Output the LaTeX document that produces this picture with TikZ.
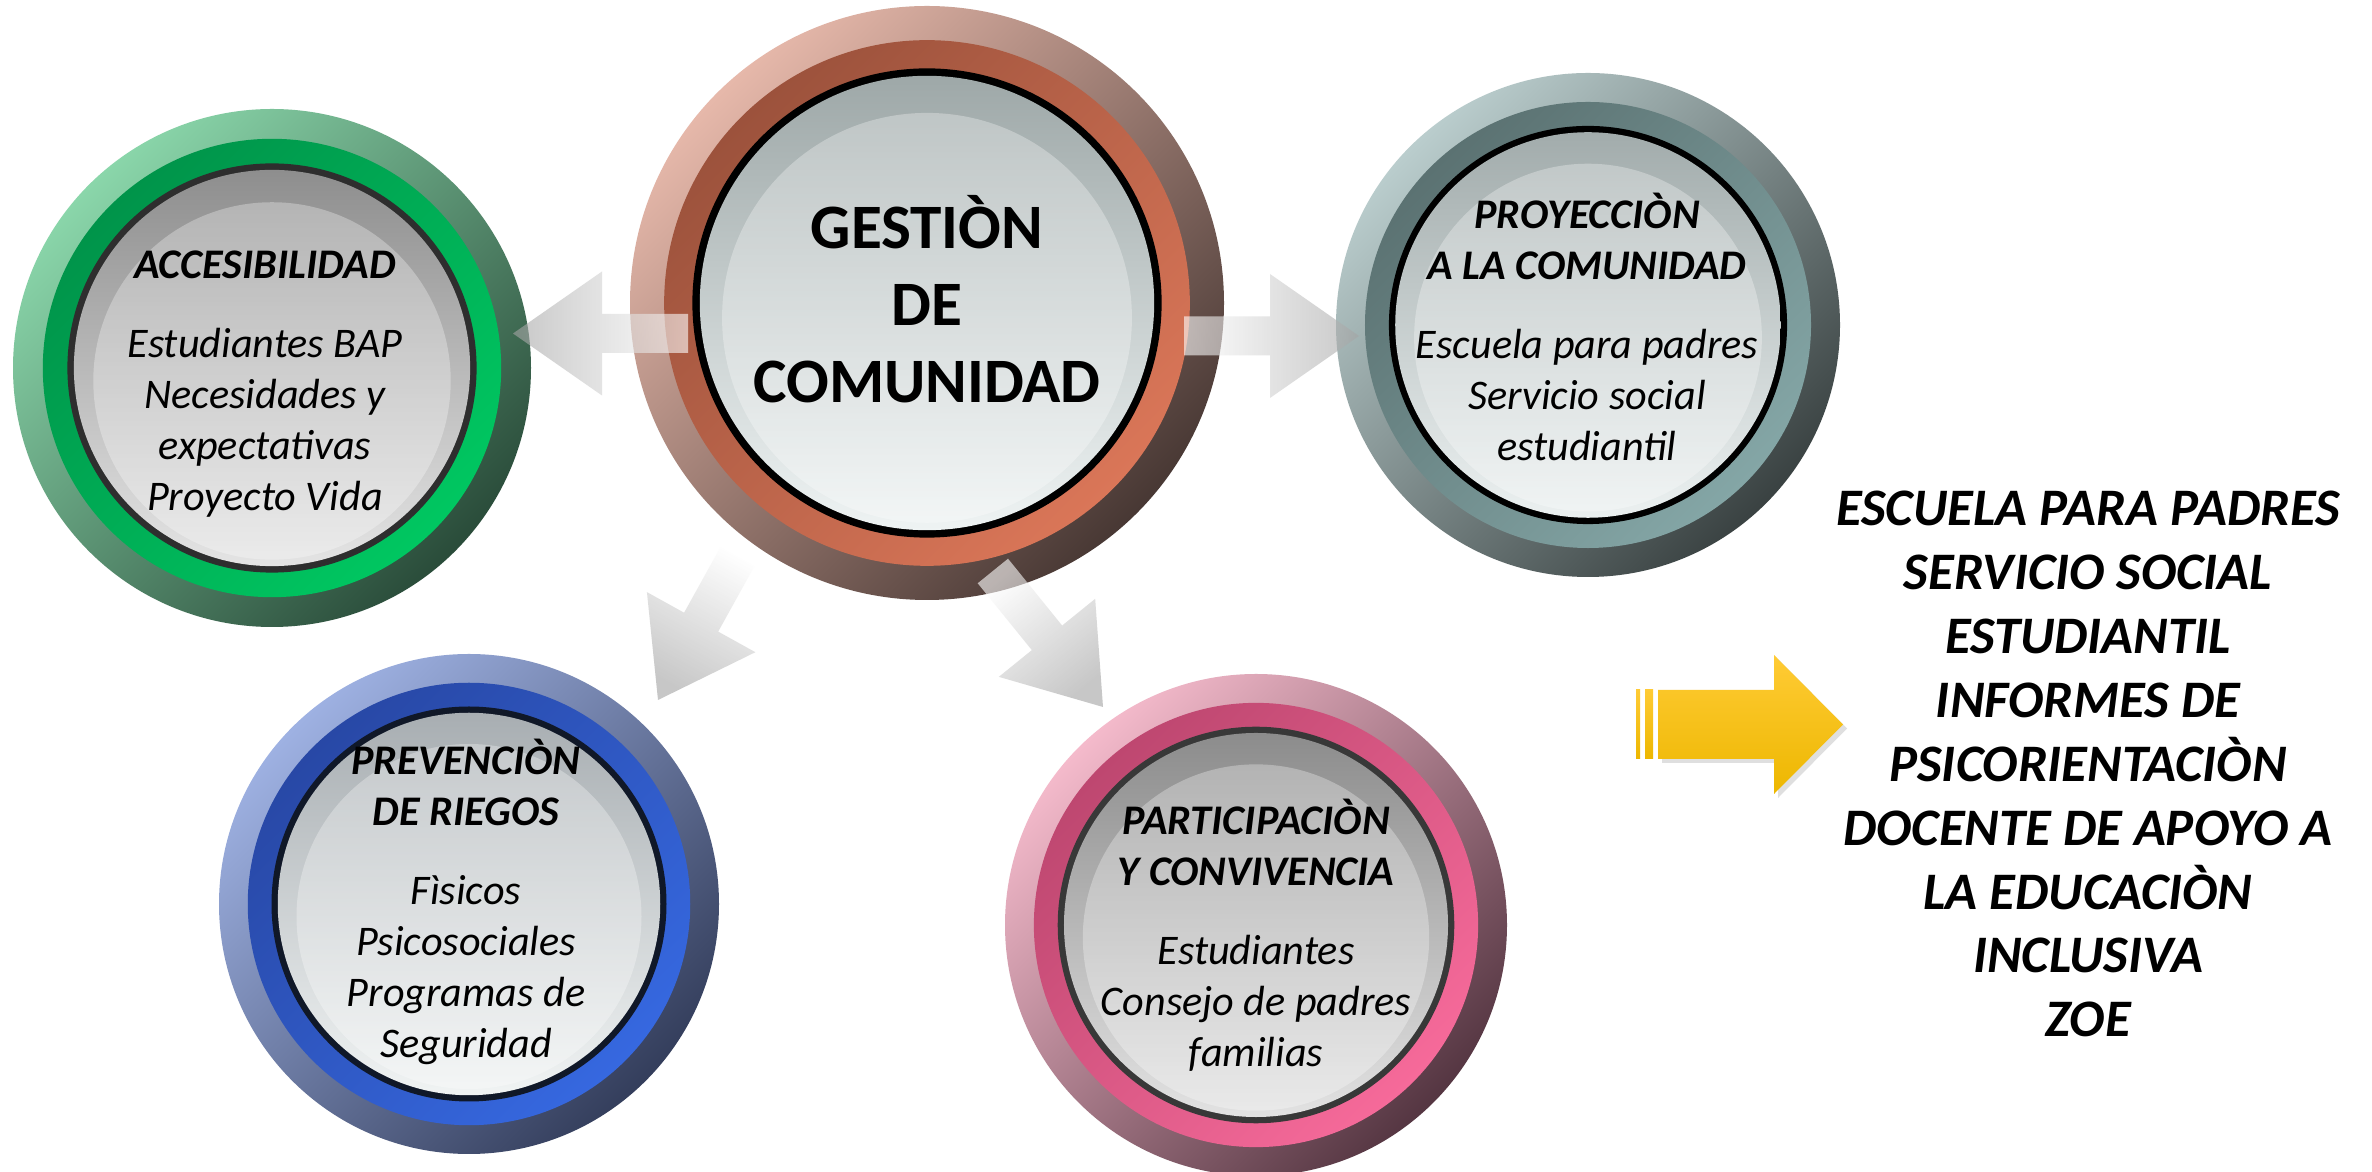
\documentclass[tikz,border=0pt]{standalone}
\usepackage{fontspec}
\setmainfont{Carlito}
\usepackage{tikz}
\usetikzlibrary{calc,shadows}

% colours: A/B outer ring, C/D band, E/F inner disk, L line
\definecolor{verdeA}{HTML}{8AD6AA}\definecolor{verdeB}{HTML}{2A4C3A}
\definecolor{verdeC}{HTML}{00944A}\definecolor{verdeD}{HTML}{00C761}
\definecolor{verdeE}{HTML}{8E8E8E}\definecolor{verdeF}{HTML}{E4E4E4}
\definecolor{verdeL}{HTML}{2E2E2E}
\definecolor{cafeA}{HTML}{E6B8AA}\definecolor{cafeB}{HTML}{483834}
\definecolor{cafeC}{HTML}{9C523C}\definecolor{cafeD}{HTML}{DA7658}
\definecolor{cafeE}{HTML}{9EA8A8}\definecolor{cafeF}{HTML}{EEF3F3}
\definecolor{cafeL}{HTML}{000000}
\definecolor{grisA}{HTML}{BACDCD}\definecolor{grisB}{HTML}{3A4242}
\definecolor{grisC}{HTML}{5B7272}\definecolor{grisD}{HTML}{84A6A6}
\definecolor{grisE}{HTML}{A2ACAC}\definecolor{grisF}{HTML}{EBF0F0}
\definecolor{grisL}{HTML}{000000}
\definecolor{azulA}{HTML}{9EB1E2}\definecolor{azulB}{HTML}{343E5C}
\definecolor{azulC}{HTML}{2848A6}\definecolor{azulD}{HTML}{3668E0}
\definecolor{azulE}{HTML}{A8AEB2}\definecolor{azulF}{HTML}{F0F3F3}
\definecolor{azulL}{HTML}{101828}
\definecolor{rosaA}{HTML}{F4BACB}\definecolor{rosaB}{HTML}{553642}
\definecolor{rosaC}{HTML}{BE4770}\definecolor{rosaD}{HTML}{F66A9A}
\definecolor{rosaE}{HTML}{8C8C8C}\definecolor{rosaF}{HTML}{E2E2E2}
\definecolor{rosaL}{HTML}{383838}
\definecolor{amarilloA}{HTML}{FFCB35}\definecolor{amarilloB}{HTML}{FFC800}
\definecolor{amarilloC}{HTML}{EDB700}

\tikzset{
  titulo/.style={align=center, inner sep=0pt, font=\fontsize{18}{21.9}\selectfont\bfseries},
  texto/.style={align=center, inner sep=0pt, font=\fontsize{12}{14.5}\selectfont\itshape},
  lista/.style={align=center, inner sep=0pt, font=\fontsize{15}{18.2}\selectfont\bfseries\itshape},
  flechagris/.style={left color=white, right color=black!36, opacity=0.6},
  amarillo/.style={top color=amarilloA, middle color=amarilloB, bottom color=amarilloC}
}

% round button: centre, radius, colour set
\newcommand{\boton}[3]{%
  \shade[top color=#3A, bottom color=#3B, shading angle=45] #1 circle (#2);
  \shade[top color=#3C, bottom color=#3D, shading angle=45] #1 circle ({0.885*#2});
  \fill[#3L] #1 circle ({0.79*#2});
  \shade[top color=#3E, bottom color=#3F] #1 circle ({0.765*#2});
  \fill[white, opacity=0.3] ($#1+(0,{-0.05*#2})$) circle ({0.69*#2});
}

% fat grey arrow: tip, direction
\newcommand{\flecha}[2]{%
  \begin{scope}[shift={#1}, rotate=#2]
    \shade[flechagris, shading angle={90+#2}] (0,0) -- (-0.89,0.62) -- (-0.89,0.195) -- (-1.75,0.195)
      -- (-1.75,-0.195) -- (-0.89,-0.195) -- (-0.89,-0.62) -- cycle;
  \end{scope}
}

\begin{document}
\begin{tikzpicture}
    \fill[white] (0,0) rectangle (23.72,11.72);
    \useasboundingbox (0,0) rectangle (23.72,11.72);

    % Buttons
    \boton{(9.27,8.69)}{2.97}{cafe}
    \boton{(2.72,8.04)}{2.59}{verde}
    \boton{(15.88,8.47)}{2.52}{gris}
    \boton{(4.69,2.68)}{2.50}{azul}
    \boton{(12.56,2.47)}{2.51}{rosa}

    % Nodes
    \node [titulo] (gest) at (9.27,8.73) {GESTIÒN\\ DE\\ COMUNIDAD};
    \node [texto] (acc) at (2.65,7.88) {\textbf{ACCESIBILIDAD}\\[8pt] Estudiantes BAP\\ Necesidades y\\ expectativas\\ Proyecto Vida};
    \node [texto] (proy) at (15.87,8.45) {\textbf{PROYECCIÒN}\\ \textbf{A LA COMUNIDAD}\\[8pt] Escuela para padres\\ Servicio social\\ estudiantil};
    \node [texto] (prev) at (4.66,2.70) {\textbf{PREVENCIÒN}\\ \textbf{DE RIEGOS}\\[8pt] Fìsicos\\ Psicosociales\\ Programas de\\ Seguridad};
    \node [texto] (part) at (12.56,2.37) {\textbf{PARTICIPACIÒN}\\ \textbf{Y CONVIVENCIA}\\[8pt] Estudiantes\\ Consejo de padres\\ familias};
    \node [lista] (lista) at (20.88,4.08) {ESCUELA PARA PADRES\\ SERVICIO SOCIAL\\ ESTUDIANTIL\\ INFORMES DE\\ PSICORIENTACIÒN\\ DOCENTE DE APOYO A\\ LA EDUCACIÒN\\ INCLUSIVA\\ ZOE};

    % Arrows
    \flecha{(5.13,8.385)}{180}
    \flecha{(13.59,8.36)}{0}
    \flecha{(6.58,4.72)}{241}
    \flecha{(11.03,4.65)}{-51}

    % yellow arrow
    \shade [amarillo, drop shadow={opacity=0.25, shadow xshift=0.04, shadow yshift=-0.04}]
      (16.58,4.13) -- (17.74,4.13) -- (17.74,3.78) -- (18.43,4.475) -- (17.74,5.17) -- (17.74,4.82) -- (16.58,4.82) -- cycle;
    \shade [amarillo] (16.36,4.13) rectangle (16.40,4.82);
    \shade [amarillo] (16.45,4.13) rectangle (16.53,4.82);
\end{tikzpicture}
\end{document}
